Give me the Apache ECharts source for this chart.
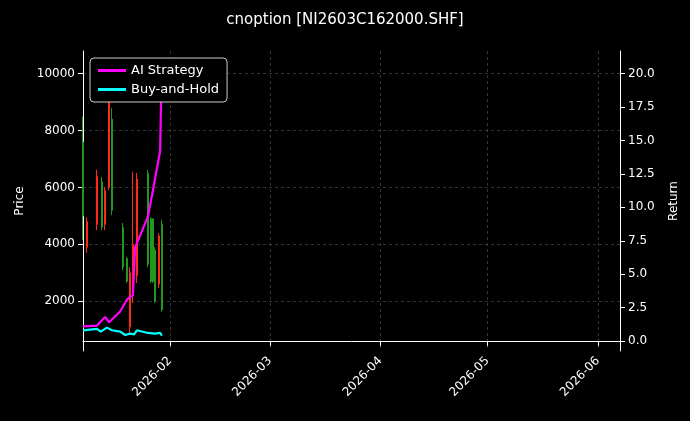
<!DOCTYPE html>
<html><head><meta charset="utf-8">
<script src="https://cdn.jsdelivr.net/npm/echarts@6/dist/echarts.min.js"></script>
<style>html,body{margin:0;background:#000}#c{width:690px;height:421px}</style>
</head><body><div id="c"></div>
<script>
// candles: date, open, close, low, high
const candleDates = ['2026-01-07T14:00','2026-01-08T17:00','2026-01-11T12:00','2026-01-12T22:00','2026-01-13T19:00','2026-01-14T22:00','2026-01-15T17:00','2026-01-18T19:00','2026-01-19T22:00','2026-01-20T19:00','2026-01-21T14:00','2026-01-22T17:00','2026-01-25T19:00','2026-01-26T17:00','2026-01-27T05:00','2026-01-27T19:00','2026-01-28T22:00','2026-01-29T17:00'];
const opens  = [7600,3900,4700,6200,4700,6000,8400,4600,3500,1100,2200,2900,6500,4900,4900,3800,2600,4700];
const closes = [5000,4800,6400,4600,5900,9000,5200,3200,2700,3000,4000,6300,3300,2700,2700,2000,4300,1700];
const lows   = [4150,3700,4500,4500,4500,5900,5030,3100,2640,880,1940,2640,3200,2640,2640,1940,2460,1630];
const highs  = [8490,4960,6620,6370,6020,9190,8800,4750,3560,3200,6550,6510,6620,4960,4900,3900,4400,4860];
const aiDates = ['2026-01-07T14:00','2026-01-11T12:00','2026-01-13T19:00','2026-01-14T22:00','2026-01-18T00:00','2026-01-19T22:00','2026-01-20T19:00','2026-01-21T14:00','2026-01-22T05:00','2026-01-25T19:00','2026-01-27T05:00','2026-01-28T14:00','2026-01-29T05:00','2026-01-29T17:00'];
const aiValues = [1.1,1.15,1.8,1.4,2.2,3.1,3.3,3.4,7.0,9.3,11.3,13.3,14.2,21.0];
const bhDates = ['2026-01-07T14:00','2026-01-11T12:00','2026-01-12T14:00','2026-01-14T07:00','2026-01-15T17:00','2026-01-18T00:00','2026-01-19T10:00','2026-01-20T19:00','2026-01-21T22:00','2026-01-22T17:00','2026-01-25T19:00','2026-01-27T19:00','2026-01-29T05:00','2026-01-29T17:00'];
const bhValues = [0.8,0.9,0.7,1.0,0.8,0.7,0.45,0.55,0.5,0.8,0.6,0.55,0.6,0.4];
const monthTicks = ['2026-02-01T00:00','2026-03-01T00:00','2026-04-01T00:00','2026-05-01T00:00','2026-06-01T00:00'];

const ms = d => +new Date(d);
const ticksMs = monthTicks.map(ms);
const candleData = candleDates.map((d,i)=>[ms(d), opens[i], closes[i], lows[i], highs[i]]);
const pad = n => String(n).padStart(2,'0');
const grid = {show:true,lineStyle:{color:'#555',type:[3,3],width:0.6}};
const chart = echarts.init(document.getElementById('c'));
chart.setOption({
  backgroundColor:'#000',
  animation:false,
  title:{text:'cnoption [NI2603C162000.SHF]',left:'center',top:8,textStyle:{color:'#fff',fontSize:15,fontWeight:'normal',fontFamily:'DejaVu Sans'}},
  grid:{left:83,right:70,top:51,bottom:70},
  legend:{left:90,top:58,orient:'vertical',itemGap:6,padding:[6,8],backgroundColor:'#000',borderColor:'#ccc',borderWidth:1,borderRadius:4,
    textStyle:{color:'#fff',fontSize:13,fontFamily:'DejaVu Sans'},itemWidth:28,itemHeight:3,icon:'rect',data:['AI Strategy','Buy-and-Hold']},
  xAxis:{type:'value',min:ms('2026-01-07T14:00'),max:ms('2026-06-07T05:00'),
    axisLine:{lineStyle:{color:'#fff'}},
    axisTick:{customValues:ticksMs,lineStyle:{color:'#fff'}},
    axisLabel:{customValues:ticksMs,rotate:45,color:'#fff',fontSize:12,fontFamily:'DejaVu Sans',
      formatter:v=>{const d=new Date(v);return d.getFullYear()+'-'+pad(d.getMonth()+1);}},
    splitLine:grid},
  yAxis:[
    {type:'value',min:250,max:10800,name:'Price',nameLocation:'middle',nameGap:55,
     nameTextStyle:{color:'#fff',fontSize:12,fontFamily:'DejaVu Sans'},
     axisLine:{show:true,lineStyle:{color:'#fff'}},axisTick:{show:true,customValues:[2000,4000,6000,8000,10000]},
     axisLabel:{color:'#fff',fontSize:12,fontFamily:'DejaVu Sans',customValues:[2000,4000,6000,8000,10000],formatter:v=>String(v)},
     splitLine:grid},
    {type:'value',min:-0.75,max:21.7,name:'Return',nameLocation:'middle',nameGap:48,
     nameTextStyle:{color:'#fff',fontSize:12,fontFamily:'DejaVu Sans'},
     axisLine:{show:true,lineStyle:{color:'#fff'}},
     axisTick:{show:true,customValues:[0,2.5,5,7.5,10,12.5,15,17.5,20]},
     axisLabel:{color:'#fff',fontSize:12,fontFamily:'DejaVu Sans',customValues:[0,2.5,5,7.5,10,12.5,15,17.5,20],formatter:v=>v.toFixed(1)},
     splitLine:{show:false}}
  ],
  series:[
    {type:'candlestick',yAxisIndex:0,data:candleData,barMaxWidth:2,clip:true,
     itemStyle:{color:'#ff2a1a',color0:'#1f9a1f',borderColor:'#ff2a1a',borderColor0:'#1f9a1f',borderWidth:1}},
    {name:'AI Strategy',type:'line',yAxisIndex:1,showSymbol:false,data:aiDates.map((d,i)=>[ms(d),aiValues[i]]),lineStyle:{color:'#ff00ff',width:2.2},itemStyle:{color:'#ff00ff'}},
    {name:'Buy-and-Hold',type:'line',yAxisIndex:1,showSymbol:false,data:bhDates.map((d,i)=>[ms(d),bhValues[i]]),lineStyle:{color:'#00ffff',width:2.2},itemStyle:{color:'#00ffff'}}
  ]
});
</script></body></html>
